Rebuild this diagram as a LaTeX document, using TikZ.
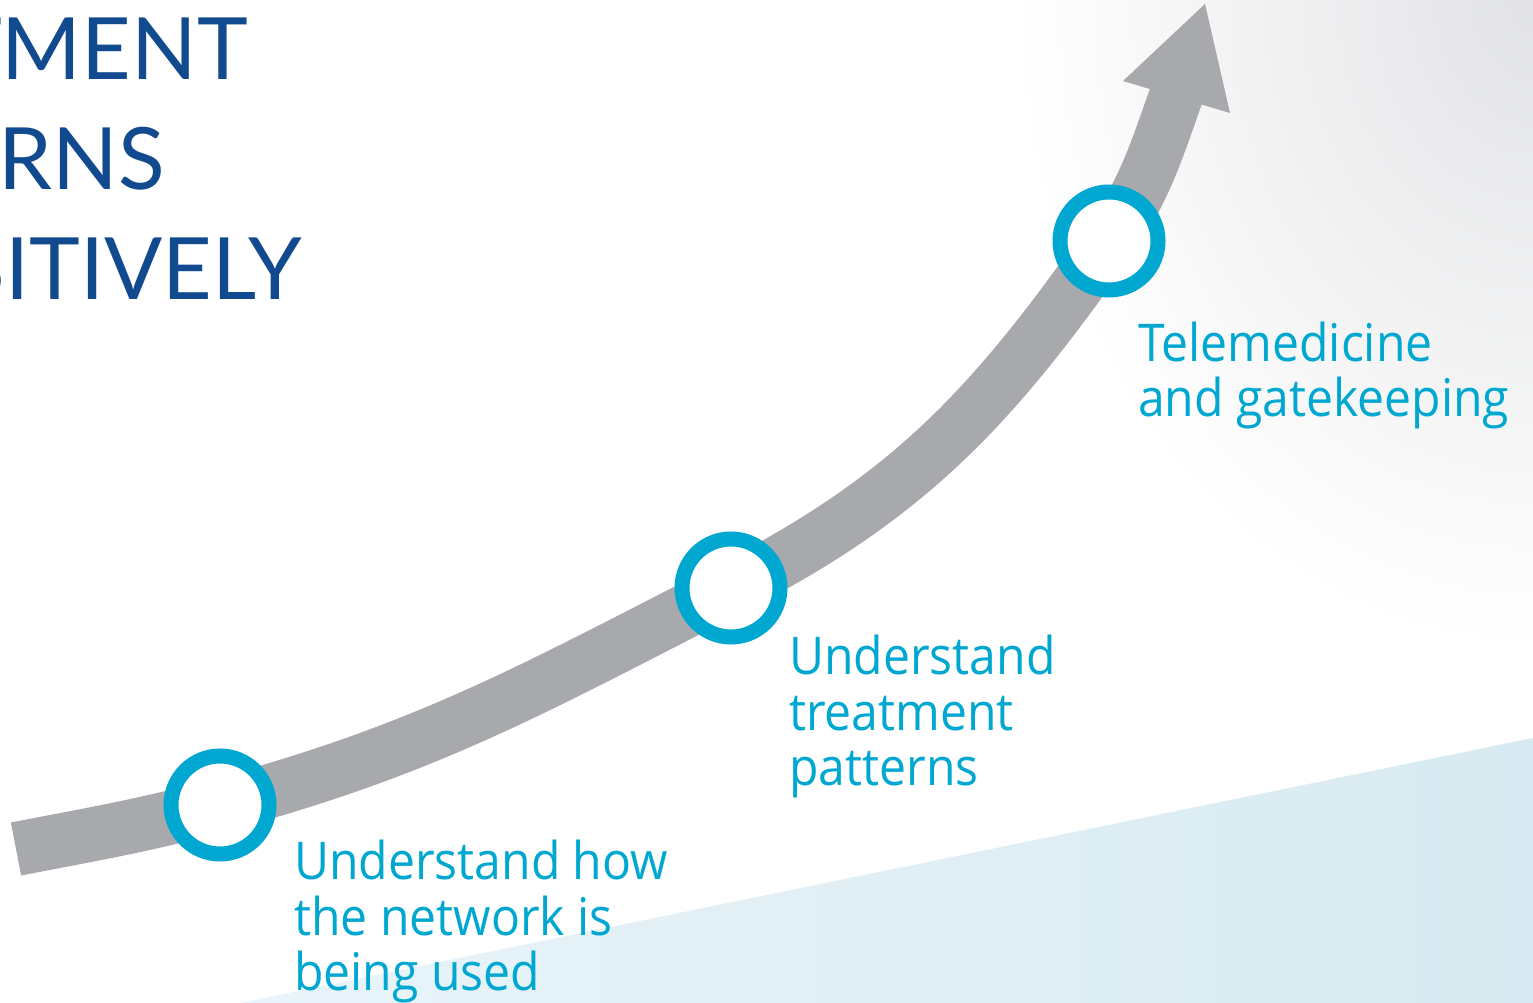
\documentclass[tikz,border=0pt]{standalone}
\usepackage{fontspec}
\setmainfont{Open Sans}[FakeStretch=0.925]
\newfontfamily\headfont{Lato}

\definecolor{bandgray}{HTML}{A7A9AC}
\definecolor{stepcyan}{HTML}{00A7D0}
\definecolor{headblue}{HTML}{114A8E}
\definecolor{sealight}{HTML}{E8F4F9}
\definecolor{seadark}{HTML}{D8EAF1}
\definecolor{wallgray}{HTML}{E2E3E5}

\begin{document}
\begin{tikzpicture}[x=1pt, y=1pt,
	band/.style={bandgray, line width=54pt},
	ring/.style={circle, draw=stepcyan, line width=15pt, fill=white, minimum size=98pt, inner sep=0pt},
	steplabel/.style={anchor=base west, align=left, inner sep=0pt, text=stepcyan, font=\fontsize{52}{55.5}\selectfont},
	headline/.style={anchor=base east, inner sep=0pt, text=headblue, font=\headfont\fontsize{86}{100}\selectfont}]

	\useasboundingbox (0,0) rectangle (1533,1003);

	% backdrop: grey glow from the top right, pale blue wedge below
	\fill[white] (0,0) rectangle (1533,1003);
	\shade[inner color=wallgray, outer color=white] (1533,1003) ellipse [x radius=520, y radius=650];
	\shade[left color=sealight, right color=seadark] (240,0) -- (1533,265) -- (1533,0) -- cycle;

	% title, cut at the left edge
	\node[headline] (t1) at (248,923) {TMENT};
	\node[headline] (t2) at (165,813) {RNS};
	\node[headline] (t3) at (302,703) {SITIVELY};

	% growth arrow
	\coordinate (tail) at (16,154);
	\coordinate (p1) at (220,198);
	\coordinate (p2) at (731,415);
	\coordinate (p3) at (1109,762);
	\coordinate (head) at (1180,918);
	\coordinate (wl) at (1123,922);
	\coordinate (tip) at (1205,999);
	\coordinate (wr) at (1230,890);
	\draw[band] (tail) to[out=11, in=195] (p1)
		to[out=15, in=207] (p2)
		to[out=27, in=235] (p3)
		to[out=55, in=250] (head);
	\fill[bandgray] (wl) -- (tip) -- (wr) -- cycle;

	% milestones
	\node[ring] (s1) at (p1) {};
	\node[ring] (s2) at (p2) {};
	\node[ring] (s3) at (p3) {};

	% labels sit on the baseline of their last line
	\node[steplabel] (l1) at (294,12) {Understand how\\the network is\\being used};
	\node[steplabel] (l2) at (789,217) {Understand\\treatment\\patterns};
	\node[steplabel] (l3) at (1138,586) {Telemedicine\\and gatekeeping};

\end{tikzpicture}
\end{document}
